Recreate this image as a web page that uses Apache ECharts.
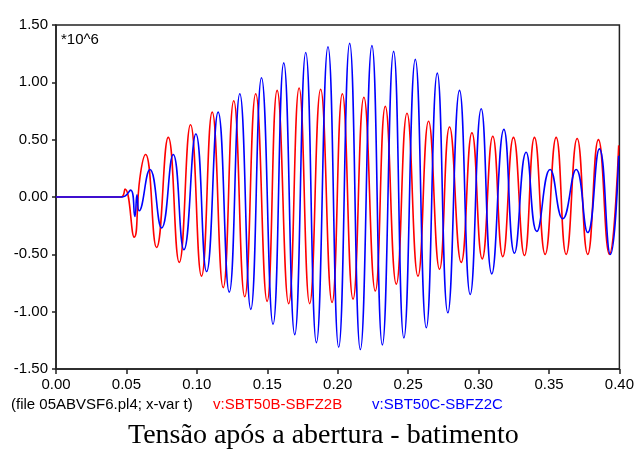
<!DOCTYPE html>
<html><head><meta charset="utf-8">
<script src="https://cdn.jsdelivr.net/npm/echarts@6/dist/echarts.min.js"></script>
<style>html,body{margin:0;padding:0;background:#fff}#c{width:637px;height:453px}</style>
</head><body><div id="c"></div>
<script>
// time (s) and voltage (x10^6) read at peaks/troughs of the reference plot
var redT = [0, 0.046, 0.049, 0.0555, 0.0596, 0.0636, 0.0714, 0.0797, 0.0875, 0.0955, 0.1033, 0.1109, 0.1187, 0.1262, 0.134, 0.1418, 0.1499, 0.157, 0.1652, 0.1726, 0.1801, 0.1879, 0.196, 0.2033, 0.2109, 0.2186, 0.2267, 0.2338, 0.2416, 0.2492, 0.257, 0.2645, 0.2723, 0.2794, 0.2877, 0.2953, 0.3026, 0.3101, 0.3172, 0.3248, 0.3326, 0.3397, 0.3473, 0.3551, 0.3622, 0.37, 0.3775, 0.3851, 0.3929, 0.3995];
var redV = [0, 0, 0.07, -0.35, 0.17, 0.37, -0.44, 0.52, -0.57, 0.63, -0.69, 0.74, -0.79, 0.84, -0.87, 0.90, -0.91, 0.93, -0.93, 0.95, -0.93, 0.94, -0.92, 0.90, -0.89, 0.87, -0.82, 0.79, -0.76, 0.73, -0.69, 0.66, -0.63, 0.61, -0.57, 0.56, -0.54, 0.53, -0.52, 0.52, -0.51, 0.52, -0.50, 0.52, -0.50, 0.51, -0.50, 0.50, -0.50, 0.45];
var blueT = [0, 0.047, 0.053, 0.056, 0.0575, 0.059, 0.0667, 0.075, 0.0832, 0.0908, 0.0993, 0.1069, 0.1151, 0.123, 0.1305, 0.1383, 0.1459, 0.1541, 0.1617, 0.1695, 0.1773, 0.1849, 0.1931, 0.2007, 0.2085, 0.2161, 0.2243, 0.2317, 0.2397, 0.247, 0.2551, 0.2629, 0.2707, 0.2782, 0.2865, 0.2941, 0.3019, 0.3094, 0.318, 0.3255, 0.3338, 0.3414, 0.3508, 0.3598, 0.3693, 0.3775, 0.3858, 0.3936, 0.3995];
var blueV = [0, 0, 0.06, -0.17, 0.02, -0.12, 0.24, -0.27, 0.37, -0.46, 0.55, -0.65, 0.74, -0.83, 0.90, -0.98, 1.04, -1.11, 1.17, -1.20, 1.26, -1.27, 1.31, -1.31, 1.34, -1.33, 1.32, -1.29, 1.27, -1.23, 1.20, -1.14, 1.08, -1.01, 0.93, -0.85, 0.77, -0.67, 0.59, -0.49, 0.39, -0.30, 0.24, -0.19, 0.24, -0.31, 0.42, -0.50, 0.36];
var redName = 'v:SBT50B-SBFZ2B';
var blueName = 'v:SBT50C-SBFZ2C';
var fileNote = '(file 05ABVSF6.pl4; x-var t)';
var scaleNote = '*10^6';
var caption = 'Tensão após a abertura - batimento';

function pairs(t, v) { return t.map(function (x, i) { return [x, v[i]]; }); }

var chart = echarts.init(document.getElementById('c'), null, {renderer: 'canvas'});
var axisCol = '#222';
var sans = '15px "Liberation Sans", Arial, sans-serif';
chart.setOption({
  animation: false,
  backgroundColor: '#fff',
  grid: {left: 56, right: 17, top: 25, bottom: 84, show: true, borderColor: axisCol, borderWidth: 1.5, backgroundColor: 'transparent'},
  xAxis: {
    type: 'value', min: 0, max: 0.4, interval: 0.05,
    axisLine: {show: true, onZero: false, lineStyle: {color: axisCol, width: 1.5}},
    axisTick: {show: true, length: 5, lineStyle: {color: axisCol, width: 1.5}},
    splitLine: {show: false},
    axisLabel: {color: '#000', fontFamily: 'Liberation Sans, Arial', fontSize: 15, margin: 8,
      formatter: function (v) { return v.toFixed(2); }}
  },
  yAxis: {
    type: 'value', min: -1.5, max: 1.5, interval: 0.5,
    axisLine: {show: true, onZero: false, lineStyle: {color: axisCol, width: 1.5}},
    axisTick: {show: true, length: 4, lineStyle: {color: axisCol, width: 1.5}},
    splitLine: {show: false},
    axisLabel: {color: '#000', fontFamily: 'Liberation Sans, Arial', fontSize: 15, margin: 8,
      formatter: function (v) { return v.toFixed(2); }}
  },
  series: [
    {name: redName, type: 'line', data: pairs(redT, redV), showSymbol: false, smooth: 0.5,
      lineStyle: {color: '#ff0000', width: 1.6}, z: 2},
    {name: blueName, type: 'line', data: pairs(blueT, blueV), showSymbol: false, smooth: 0.5,
      lineStyle: {color: '#0000ff', width: 1.6}, z: 3}
  ],
  graphic: [
    {type: 'text', x: 61, y: 40, style: {text: scaleNote, fill: '#000', font: sans, verticalAlign: 'middle'}},
    {type: 'text', x: 11, y: 405, style: {text: fileNote, fill: '#000', font: sans, verticalAlign: 'middle'}},
    {type: 'text', x: 213, y: 405, style: {text: redName, fill: '#ff0000', font: sans, verticalAlign: 'middle'}},
    {type: 'text', x: 372, y: 405, style: {text: blueName, fill: '#0000ff', font: sans, verticalAlign: 'middle'}},
    {type: 'text', x: 128, y: 436, style: {text: caption, fill: '#000', font: '28px "Liberation Serif", "Times New Roman", serif', verticalAlign: 'middle'}}
  ]
});
</script></body></html>
